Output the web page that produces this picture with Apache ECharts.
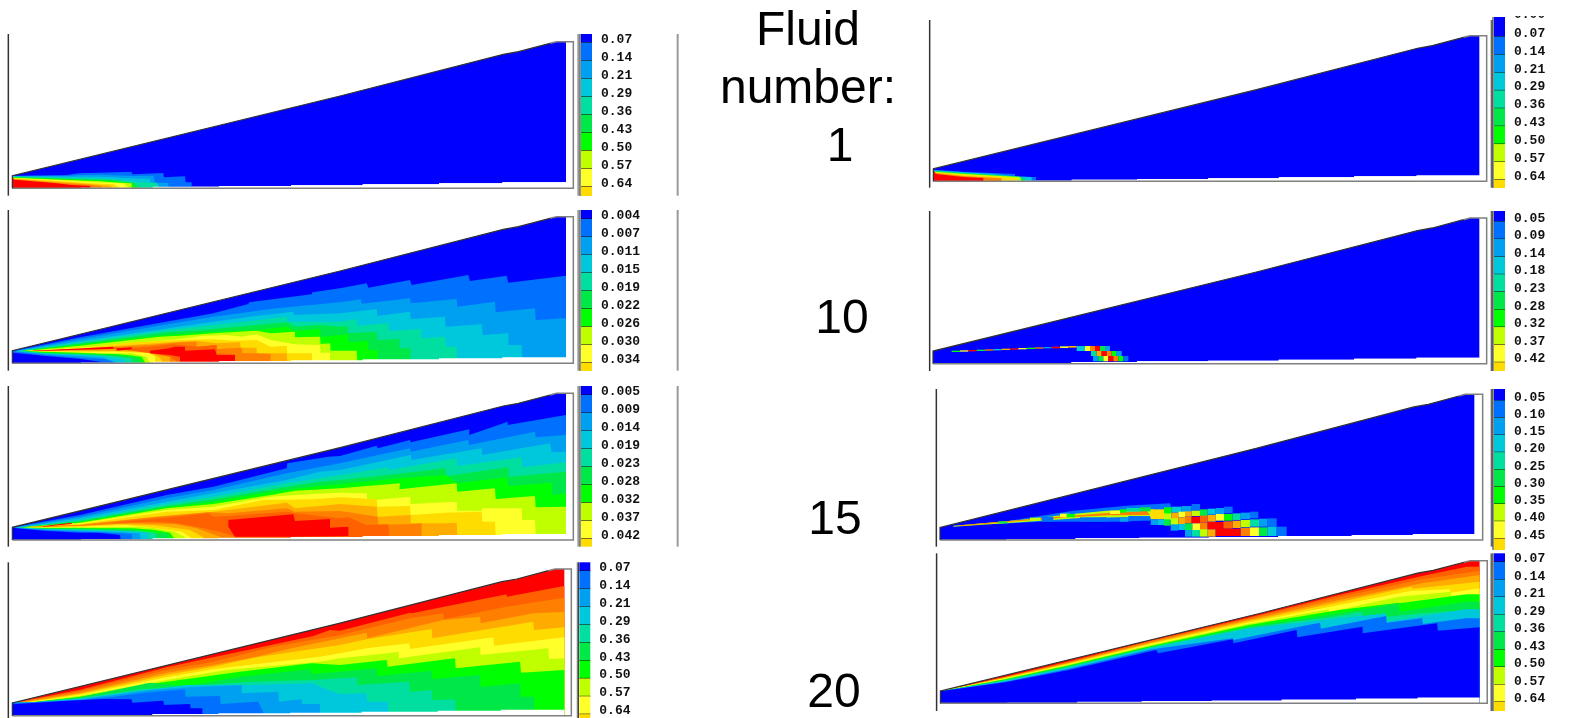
<!DOCTYPE html>
<html><head><meta charset="utf-8">
<script src="https://cdn.jsdelivr.net/npm/echarts@6/dist/echarts.min.js"></script>
<style>html,body{margin:0;padding:0;background:#fff}#c{width:1587px;height:718px}</style>
</head><body><div id="c"></div>
<script>
const LEVEL_COLORS=['#0000ff','#0070ff','#00a0f0','#00c8dc','#00dfa0','#00e848','#00ff00','#bfff00','#ffff2a','#ffdc00','#ffab00','#ff8000','#ff6000','#ff0000'];
const WEDGE_TOP=[0,38,983,277,1473,402,1518,410,1613,435,1633,440,1661,440];
const WEDGE_STAIR=[0,0,206,0,206,2,421,2,421,5,620,5,620,7,836,7,836,9,1051,9,1051,12,1280,12,1280,15,1470,15,1470,18,1661,18];

const LABELS_A=['0.07','0.14','0.21','0.29','0.36','0.43','0.50','0.57','0.64'];
const LABELS_B=['0.004','0.007','0.011','0.015','0.019','0.022','0.026','0.030','0.034'];
const LABELS_C=['0.005','0.009','0.014','0.019','0.023','0.028','0.032','0.037','0.042'];
const LABELS_D=['0.05','0.09','0.14','0.18','0.23','0.28','0.32','0.37','0.42'];
const LABELS_E=['0.05','0.10','0.15','0.20','0.25','0.30','0.35','0.40','0.45'];

const FLUID_TEXT=[['Fluid',808,32],['number:',808,90],['1',840,148],['10',842,320],['15',835,521],['20',834,694]];

const L1_BANDS=[
[1,[38,467,200,465,235,460,300,458,365,456,395,456,397,463,490,459,492,472,555,469,557,487,575,487,575,500]],
[2,[38,468,200,468,240,465,300,464,400,468,460,467,465,488,505,488,505,502]],
[3,[38,469,210,470,300,470,390,475,450,477,450,502]],
[4,[38,470,215,474,330,477,420,487,470,488,478,502]],
[5,[38,471,210,476,340,480,400,488,420,503]],
[6,[38,472,210,478,335,483,395,490,410,503]],
[7,[38,473,210,480,300,484,360,488,395,490,395,503]],
[8,[38,474,210,482,270,486,370,490,385,503]],
[9,[38,475,210,485,275,490,340,493,360,503]],
[10,[38,476,170,485,270,492,330,497,340,503]],
[11,[38,477,170,488,270,494,300,498,310,505]],
[13,[37,468,42,479,170,490,215,495,270,498,272,505]]
];

const L2_BANDS=[
[1,[37,438,240,397,640,325,745,297,747,292,935,268,937,262,1020,250,1100,235,1105,248,1230,225,1235,240,1405,210,1410,228,1520,212,1525,233,1698,212],[40,443,130,452,243,462,300,470,315,475]],
[2,[45,438,240,402,640,335,830,310,1020,292,1082,283,1085,296,1230,280,1232,295,1370,282,1372,305,1485,290,1487,322,1605,310,1607,345,1698,340],[50,441,130,449,243,458,315,462,350,475]],
[3,[50,438,240,408,640,350,750,335,880,320,882,330,1020,325,1130,313,1133,333,1230,320,1232,342,1335,335,1337,365,1445,358,1448,390,1525,385,1525,420,1565,420,1567,475],[60,440,130,447,243,453,310,458,360,475]],
[4,[55,438,240,412,500,375,640,360,780,345,860,335,862,350,1020,350,1070,342,1072,362,1165,355,1167,378,1263,372,1265,400,1335,395,1338,425,1370,425,1370,475],[70,439,130,445,243,450,300,452,370,462,380,475]],
[5,[60,438,240,416,500,382,640,372,770,360,862,352,885,365,960,360,1020,365,1042,362,1045,385,1130,380,1133,405,1198,402,1198,430,1232,430,1232,475],[75,439,130,444,243,448,330,452,395,460,400,475]],
[6,[65,438,240,418,500,390,640,380,770,375,860,365,885,378,960,372,962,396,1020,390,1045,388,1045,412,1105,408,1105,435,1133,435,1133,470],[80,438,130,443,243,446,350,450,420,458,420,475]],
[7,[70,438,240,422,480,395,540,392,640,385,770,377,812,385,885,380,885,397,960,395,962,417,990,415,992,437,1070,437,1072,470],[85,438,243,444,360,448,425,455,437,475]],
[8,[75,438,240,428,540,402,610,392,680,390,725,395,770,388,812,405,885,418,960,420,962,443,990,443,990,470],[90,438,243,442,300,445,395,445,440,455,450,475]],
[9,[80,438,240,430,400,412,540,405,640,403,700,407,770,405,812,425,860,422,862,445,936,445,936,470],[95,438,243,440,350,440,450,445,465,455,465,475]],
[10,[85,438,240,432,390,420,540,410,590,407,650,415,720,412,722,428,770,428,770,445,860,445,862,470],[100,438,243,438,350,438,450,442,480,458,490,475]],
[11,[90,438,240,435,350,425,450,420,540,412,590,410,590,425,650,420,650,432,725,428,727,445,770,445,812,447,812,470],[100,438,340,432,400,437,450,440,510,455,510,475]],
[12,[100,437,340,428,400,430,450,425,520,418,590,425,650,420,650,445,705,448,705,470],[100,438,340,432,400,437,450,445,510,455,540,475]]
];
const L2_RINGS=[
[13,[100,437,340,425,340,431,100,438]],
[13,[350,430,395,427,395,433,350,437]],
[13,[450,437,508,430,525,425,555,425,555,437,645,433,650,450,705,450,705,470,540,470,540,455,510,450,450,445]]
];

const L3_BANDS=[
[1,[37,442,240,405,500,345,640,320,860,265,862,250,985,230,1020,228,1130,197,1133,205,1230,180,1232,187,1408,148,1408,165,1523,125,1523,135,1698,105],[37,443,130,452,240,458,295,458,360,465,362,480]],
[2,[45,442,240,410,500,355,640,330,860,280,1020,250,1230,205,1232,215,1405,180,1407,195,1605,155,1607,172,1698,165],[45,443,130,450,240,455,300,457,395,462,397,480]],
[3,[55,442,240,415,500,365,640,340,860,300,960,275,1020,270,1130,247,1232,225,1235,240,1445,205,1447,225,1650,190,1655,217,1698,215],[50,443,130,448,240,452,330,455,420,460,422,480]],
[4,[65,442,240,420,500,372,640,350,860,310,960,295,1020,285,1165,262,1167,270,1370,235,1372,258,1565,232,1567,262,1698,247],[55,443,130,447,240,450,360,452,440,458,450,480]],
[5,[70,442,240,423,500,378,640,358,860,320,960,305,1020,300,1165,285,1337,265,1340,288,1525,262,1527,290,1698,275],[60,442,130,446,240,448,380,452,465,452,470,478]],
[6,[75,441,240,425,500,382,640,365,810,335,960,318,1020,312,1200,295,1337,285,1372,310,1520,292,1525,318,1655,308,1657,345,1698,340],[65,442,130,445,240,446,380,448,465,458,505,460,505,480]],
[7,[80,441,240,428,500,385,640,372,812,345,885,332,1020,325,1200,310,1198,328,1370,310,1372,335,1485,325,1487,357,1605,348,1607,382,1698,380],[70,442,130,444,240,444,400,445,465,450,510,458,525,478]],
[8,[85,441,240,430,500,390,640,380,810,350,935,342,1020,338,1100,340,1102,362,1230,350,1232,372,1370,365,1372,392,1445,392,1447,385,1565,385,1567,420,1605,420,1607,462],[75,442,240,442,415,440,465,445,525,455,555,472]],
[9,[90,441,240,432,500,395,640,390,790,360,940,358,1020,352,1130,358,1133,380,1230,378,1232,405,1335,398,1445,395,1447,425,1485,425,1487,462],[80,442,240,440,380,435,470,445,545,455,575,475]],
[10,[95,441,240,434,460,410,640,395,860,368,885,385,1020,372,1130,380,1133,410,1232,405,1232,430,1335,430,1370,428,1372,462],[85,442,240,438,350,432,465,436,570,450,610,472]],
[11,[100,440,240,435,460,412,625,397,685,400,860,385,885,395,1020,393,1133,410,1135,435,1232,432,1265,430,1265,465],[90,441,240,437,400,430,525,432,590,445,660,470]],
[12,[100,440,240,436,330,428,530,410,625,400,640,410,685,408,860,395,885,400,1020,415,1045,412,1100,435,1165,433,1167,465],[100,441,240,436,330,428,465,425,530,430,590,440,660,455,705,470]]
];
const L3_RINGS=[
[13,[130,438,215,428,215,432,130,440]],
[13,[685,420,880,403,885,423,990,417,990,443,1045,440,1045,468,873,470,705,470,685,440]]
];

const L4_BANDS=[
[12,[37,459,240,419,500,352,640,322,940,258,990,240,1020,242,1230,188,1235,190,1520,133,1520,140,1693,108]],
[11,[37,459,240,423,500,360,640,335,820,290,1020,255,1230,205,1330,190,1332,208,1520,170,1693,143]],
[10,[50,459,240,428,500,368,640,345,770,320,860,298,1020,265,1100,248,1102,265,1330,210,1440,200,1442,220,1600,190,1693,185]],
[9,[60,459,240,431,500,375,640,350,770,322,1020,285,1100,268,1295,237,1297,265,1480,235,1600,215,1602,240,1693,232]],
[8,[70,459,240,434,500,382,640,358,700,350,960,320,1020,310,1100,295,1228,280,1230,297,1480,262,1482,287,1693,262]],
[7,[75,459,240,437,500,390,680,360,960,335,1020,325,1165,310,1195,305,1197,325,1440,292,1442,315,1645,295,1647,327,1693,325]],
[6,[80,459,240,440,480,398,720,365,935,340,1020,345,1160,330,1163,350,1365,325,1367,355,1560,335,1563,368,1693,360]],
[5,[85,458,240,442,450,398,560,408,720,380,930,358,935,372,1020,365,1130,355,1132,378,1295,362,1297,387,1440,375,1442,410,1560,400,1563,440,1603,440,1603,480]],
[4,[90,458,240,445,420,418,560,410,745,395,935,390,1020,385,1070,382,1072,405,1228,395,1230,425,1295,420,1297,450,1365,448,1367,482]],
[3,[95,457,240,446,400,425,560,405,745,405,940,400,960,410,1020,432,1100,430,1102,455,1163,455,1165,485]],
[2,[85,458,240,448,340,435,450,420,570,412,725,405,725,430,835,425,837,455,905,448,907,462,960,462,960,487]],
[1,[70,458,240,450,340,440,435,428,555,418,557,440,660,438,662,462,775,455,790,487]],
[0,[38,463,205,452,315,447,395,448,397,458,490,452,492,465,570,462,572,475,607,475,607,492]]
];

const R1_BANDS=[
[1,[41,449,130,455,200,458,285,462,285,471,348,471,348,484]],
[3,[42,451,130,457,220,462,280,469,335,471,335,484]],
[5,[43,453,130,459,220,465,300,470,320,484]],
[7,[44,455,130,461,230,467,300,471,305,484]],
[9,[45,457,130,464,220,469,285,474,290,484]],
[11,[45,459,130,468,190,472,245,475,245,484]],
[13,[40,447,47,462,130,471,190,474,190,484]]
];

const R2_CELLS=[
[6,95,120,437,441],[8,120,145,436,440],[13,145,170,435,439],[5,170,195,434,438],[11,195,220,433,437],[3,220,245,432,436],
[10,245,270,431,435],[13,270,295,430,434],[8,295,320,429,433],[6,320,345,428,432],[11,345,370,427,431],[2,370,395,426,430],
[13,395,420,425,430],[8,420,445,424,429],[10,445,470,423,428],
[3,470,495,423,438],[8,495,510,423,438],[11,510,525,423,438],[13,525,540,423,438],[5,540,555,423,438],[2,555,570,423,438],
[4,513,530,438,453],[10,530,545,438,453],[13,545,560,438,453],[11,560,575,438,453],[6,575,590,438,453],[2,590,605,438,453],
[2,519,535,453,469],[5,535,550,453,469],[8,550,565,453,469],[13,565,580,453,469],[11,580,595,453,469],[6,595,610,453,469],[1,610,625,453,469]
];

const R3_RINGS=[
[1,[230,428,460,392,620,377,750,370,755,385,690,420,610,425,480,425,360,425,230,432]],
[7,[100,437,300,420,450,403,560,392,700,388,700,412,600,412,480,414,300,427,100,440]],
[11,[120,436,300,420,450,407,570,398,680,392,690,405,570,406,450,412,300,423,120,438]]
];
const R3_CELLS=[
[1,365,400,410,425],[1,480,560,412,425],[2,600,625,413,425],[1,625,690,408,422],[8,420,450,401,412],[6,440,465,402,412],[5,235,262,424,430],[7,330,360,413,420],
[8,570,600,392,402],[6,600,620,388,398],[4,620,660,384,395],[5,660,692,382,394],
[9,692,732,388,418],[6,732,755,382,402],[3,755,785,380,398],[2,785,815,378,396],[1,815,840,372,392],
[7,732,755,400,420],[10,755,775,398,418],[8,775,795,395,412],[10,795,815,394,410],[7,815,840,392,408],[5,840,863,388,408],[3,863,887,386,404],[2,887,912,384,402],[1,912,938,380,400],
[2,692,712,418,435],[3,712,732,418,435],[5,732,752,418,437],[7,752,775,415,435],[10,775,795,412,432],[11,795,815,410,430],[13,815,840,410,430],[12,840,863,407,428],[10,863,887,405,425],[8,887,912,402,422],[6,912,938,402,422],[4,938,962,400,420],[2,962,990,398,418],[1,990,1015,395,415],
[2,752,775,433,452],[3,775,795,432,450],[5,795,817,430,450],[8,817,840,430,450],[11,840,863,428,450],[13,863,910,426,448],[12,910,938,424,446],[10,938,962,422,444],[7,962,990,420,442],[4,990,1017,418,440],[2,1017,1043,416,440],[1,1043,1070,415,440],
[2,795,815,450,470],[4,815,840,450,470],[7,840,863,448,470],[10,863,887,448,470],[13,887,962,446,468],[11,962,990,444,468],[8,990,1017,442,468],[5,1017,1043,442,468],[3,1043,1070,440,468],[1,1070,1100,440,468]
];

const R4_BANDS=[
[12,[48,424,200,380,350,334,545,271,770,203,985,135,1180,78,1285,50,1315,50]],
[11,[48,424,200,381,350,336,545,273,770,206,985,142,1180,88,1315,62]],
[10,[48,424,200,382,350,338,545,276,770,210,985,150,1180,100,1315,75]],
[9,[48,424,200,384,350,340,545,279,770,214,985,157,1155,110,1157,116,1315,95]],
[8,[48,424,200,385,350,342,545,281,770,218,985,165,1155,122,1245,118,1247,128,1315,115]],
[7,[48,424,200,386,350,344,545,284,770,222,960,178,962,186,1125,140,1247,125,1249,137,1315,135]],
[6,[48,424,200,388,350,346,545,287,770,226,985,180,1125,158,1127,160,1285,133,1315,133]],
[5,[48,424,200,390,350,349,545,290,770,231,985,190,1125,160,1127,185,1283,155,1315,155]],
[4,[48,424,200,391,350,350,545,291,770,234,985,198,1038,185,1040,208,1180,190,1315,178]],
[3,[48,424,200,392,350,352,545,293,775,235,985,205,1095,190,1097,215,1282,178,1315,178]],
[1,[48,424,200,395,350,356,545,298,735,265,737,270,885,232,940,218,942,236,1095,198,1097,218,1180,205,1182,222,1282,205,1315,205]],
[0,[48,424,200,397,350,360,555,300,560,310,735,268,737,280,885,240,887,262,1040,230,1040,250,1215,220,1217,242,1315,232]]
];

const PANELS=[
{left:0,top:20,w:700,h:180,ux:3,corner:37,end:1698,base:505,hs:1,frame:1720,baseLevel:0,bands:L1_BANDS,rules:[[25,42,527,'#333',1.5],[1735,42,527,'#999',2],[2033,42,527,'#999',2]],
 cb:{left:581,right:592,top:34,bottom:196,first:42.7,step:18,labels:LABELS_A}},
{left:0,top:205,w:700,h:175,ux:3,corner:37,end:1698,base:475,hs:1,frame:1720,baseLevel:0,bands:L2_BANDS,rings:L2_RINGS,rules:[[25,15,497,'#333',1.5],[1735,15,497,'#999',2],[2033,15,497,'#999',2]],
 cb:{left:581,right:592,top:210,bottom:371,first:219,step:17.97,labels:LABELS_B}},
{left:0,top:380,w:700,h:170,ux:3,corner:37,end:1698,base:480,hs:1,frame:1720,baseLevel:0,bands:L3_BANDS,rings:L3_RINGS,rules:[[25,18,500,'#333',1.5],[1735,18,500,'#999',2],[2033,18,500,'#999',2]],
 cb:{left:581,right:592,top:386,bottom:546.7,first:395,step:17.97,labels:LABELS_C}},
{left:0,top:550,w:700,h:168,ux:3,corner:37,end:1693,base:497,hs:1,frame:1714,baseLevel:13,bands:L4_BANDS,rules:[[25,37,504,'#333',1.5],[1733,37,504,'#999',2]],
 cb:{left:579.3,right:590.3,top:562.3,bottom:718,first:571,step:17.9,labels:LABELS_A}},
{left:920,top:20,w:667,h:180,ux:3,corner:40,end:1678,base:484,hs:0.993,frame:1700,baseLevel:0,bands:R1_BANDS,rules:[[29,-9,503,'#333',1.5],[1715,-9,503,'#666',2]],
 cb:{left:1494,right:1505,top:17,bottom:188,first:36.7,step:17.9,labels:LABELS_A,clipped:'0.00'}},
{left:920,top:205,w:667,h:175,ux:3,corner:39,end:1678,base:476,hs:0.993,frame:1700,baseLevel:0,cells:R2_CELLS,rules:[[29,18,498,'#333',1.5],[1715,18,498,'#666',2]],
 cb:{left:1494,right:1505,top:211,bottom:371,first:221.5,step:17.6,labels:LABELS_D}},
{left:920,top:380,w:667,h:170,ux:3,corner:60,end:1663,base:480,hs:0.993,frame:1688,baseLevel:0,rings:R3_RINGS,cells:R3_CELLS,rules:[[49,27,500,'#333',1.5],[1715,27,500,'#666',2]],
 cb:{left:1494,right:1505,top:389,bottom:550,first:400.5,step:17.25,labels:LABELS_E}},
{left:920,top:550,w:667,h:168,ux:2.35,corner:48,end:1315,base:460,hs:0.973,frame:1333,baseLevel:13,bands:R4_BANDS,rules:[[39,10,483,'#333',1.5],[1343,10,483,'#666',2]],
 cb:{left:1494,right:1505,top:553.3,bottom:711,first:562,step:17.5,labels:LABELS_A}}
];

function pairs(a){const r=[];for(let i=0;i<a.length;i+=2)r.push([a[i],a[i+1]]);return r;}

function shapesFor(p){
  const sx=(p.end-p.corner)/1661;
  const mapPt=([x,y])=>[p.corner+x*sx,p.base-y*p.hs];
  const top=pairs(WEDGE_TOP).map(mapPt);
  const stair=pairs(WEDGE_STAIR).map(mapPt);
  const s=[];
  s.push({fill:LEVEL_COLORS[p.baseLevel],pts:top.concat(stair.slice().reverse())});
  (p.bands||[]).forEach(([lv,u,l])=>{
    const up=pairs(u);const uEnd=up[up.length-1];
    if(p.baseLevel===13&&up[0][0]>p.corner)up.unshift([p.corner,up[0][1]]);
    let pts=up.concat([[uEnd[0],p.base]]);
    if(l){const lo=pairs(l);const lEnd=lo[lo.length-1];pts=pts.concat([[lEnd[0],p.base]],lo.reverse());}
    else pts=pts.concat([[up[0][0],p.base]]);
    s.push({fill:LEVEL_COLORS[lv],pts});
  });
  (p.rings||[]).forEach(([lv,r])=>s.push({fill:LEVEL_COLORS[lv],pts:pairs(r)}));
  (p.cells||[]).forEach(([lv,x0,x1,y0,y1])=>s.push({fill:LEVEL_COLORS[lv],pts:[[x0,y0],[x1,y0],[x1,y1],[x0,y1]]}));
  const last=stair[stair.length-1];
  s.push({fill:'#fff',pts:stair.concat([[last[0],p.base],[p.corner,p.base]])});
  const t4=top[4],t5=top[5];
  s.push({stroke:'#808080',lw:1.5,pts:[t4,t5,[p.frame,t5[1]],[p.frame,p.base],[p.corner,p.base]]});
  s.push({stroke:'#333',lw:1.2,pts:[[p.corner,p.base],top[0],top[1],top[2],top[3],t4]});
  p.rules.forEach(([x,y0,y1,c,w])=>s.push({stroke:c,lw:w,pts:[[x,Math.max(y0,0)],[x,y1]]}));
  return s;
}

const grid=[],xAxis=[],yAxis=[],series=[],graphic=[];
PANELS.forEach(p=>{
  const gi=grid.length;
  grid.push({left:p.left,top:p.top,width:p.w,height:p.h,outerBoundsMode:'none'});
  xAxis.push({type:'value',gridIndex:gi,min:0,max:p.w*p.ux,show:false});
  yAxis.push({type:'value',gridIndex:gi,min:0,max:p.h*3,inverse:true,show:false});
  const shapes=shapesFor(p);
  series.push({type:'custom',xAxisIndex:gi,yAxisIndex:gi,silent:true,clip:false,z:2,
    data:shapes.map((_,i)=>[i,0]),
    renderItem:(params,api)=>{
      const sh=shapes[api.value(0)];
      const points=sh.pts.map(q=>api.coord(q));
      if(sh.stroke)return {type:'polyline',shape:{points},style:{stroke:sh.stroke,lineWidth:sh.lw,fill:null}};
      return {type:'polygon',shape:{points},style:{fill:sh.fill}};
    }});
  // colour bar
  const c=p.cb,gc=grid.length;
  const vMin=(c.top-c.first)/c.step+1,vMax=(c.bottom-c.first)/c.step+1;
  const ticks=c.labels.map((_,i)=>i+1);
  const labelLift=3.2/c.step;
  grid.push({left:c.left,top:c.top,width:c.right-c.left,height:c.bottom-c.top,outerBoundsMode:'none'});
  xAxis.push({type:'value',gridIndex:gc,min:0,max:1,show:false});
  yAxis.push({type:'value',gridIndex:gc,min:vMin,max:vMax,inverse:true,position:'right',z:6,
    splitLine:{show:false},axisLine:{show:false},axisTick:{show:false},
    axisLabel:{show:true,customValues:ticks.map(t=>t-labelLift),margin:9,color:'#111',fontFamily:'Liberation Mono',fontWeight:'bold',fontSize:13,
      formatter:v=>c.labels[Math.round(v+labelLift)-1]||''}});
  const edges=[vMin].concat(ticks,[vMax]);
  series.push({type:'custom',xAxisIndex:gc,yAxisIndex:gc,silent:true,clip:false,z:2,
    data:edges.slice(0,-1).map((e,i)=>[0,e,edges[i+1],i]),
    encode:{x:0,y:1},
    renderItem:(params,api)=>{
      const a=api.coord([0,api.value(1)]),b=api.coord([1,api.value(2)]);
      const i=api.value(3);
      const kids=[{type:'rect',shape:{x:a[0],y:a[1],width:b[0]-a[0],height:b[1]-a[1]},style:{fill:LEVEL_COLORS[i]}},
        {type:'line',shape:{x1:a[0]-1,y1:a[1],x2:a[0]-1,y2:b[1]},style:{stroke:'#222',lineWidth:1}}];
      if(i<9)kids.push({type:'line',shape:{x1:a[0],y1:b[1],x2:b[0],y2:b[1]},style:{stroke:'#111',lineWidth:1}});
      return {type:'group',children:kids};
    }});
  if(c.clipped){
    graphic.push({type:'text',x:c.right+9,y:15,z:90,style:{text:c.clipped,fontFamily:'Liberation Mono',fontWeight:'bold',fontSize:13,fill:'#111',verticalAlign:'middle'}});
    graphic.push({type:'rect',x:c.right+5,y:0,z:91,shape:{width:50,height:16},style:{fill:'#fff'}});
  }
});
FLUID_TEXT.forEach(([text,x,y])=>graphic.push({type:'text',x,y,z:50,style:{text,fontFamily:'Liberation Sans',fontSize:48,fill:'#000',align:'center',verticalAlign:'middle'}}));

const chart=echarts.init(document.getElementById('c'),null,{renderer:'canvas'});
chart.setOption({animation:false,backgroundColor:'#fff',grid,xAxis,yAxis,series,graphic});
</script></body></html>
